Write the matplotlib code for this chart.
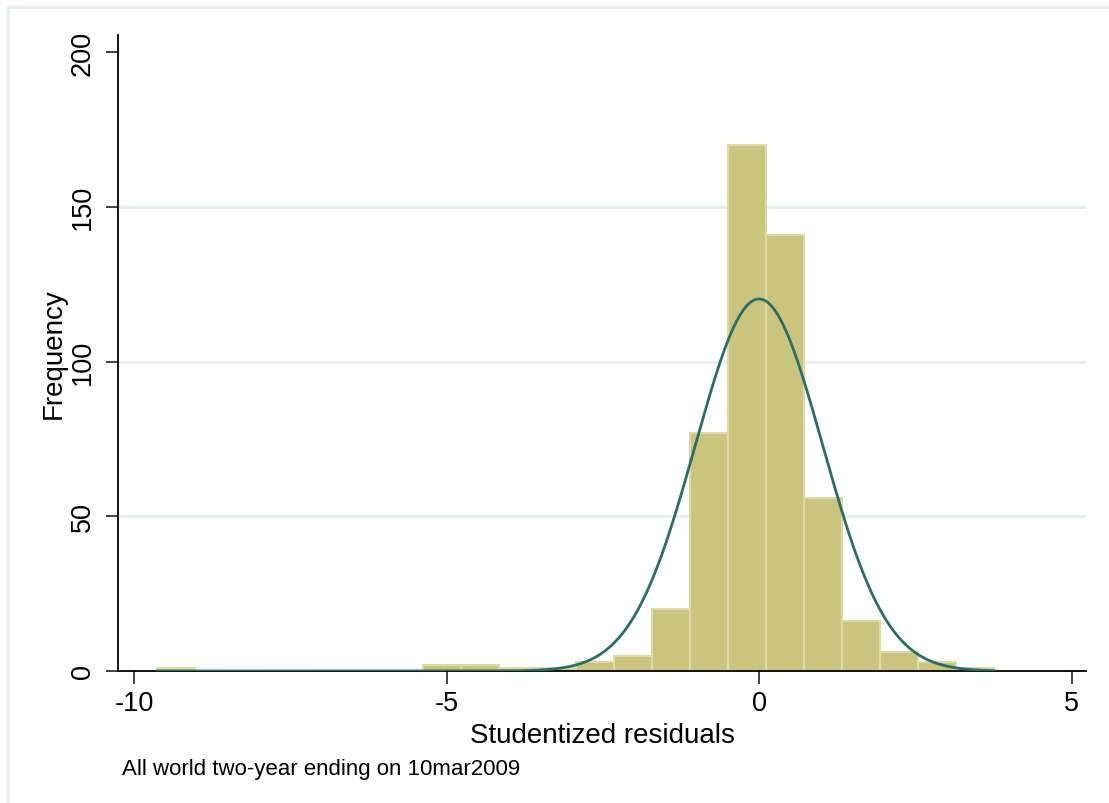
import numpy as np
import matplotlib
matplotlib.use("Agg")
import matplotlib.pyplot as plt
from matplotlib.lines import Line2D

plt.rcParams['font.family'] = ['Liberation Sans', 'DejaVu Sans']

# histogram of studentized residuals (22 bins)
bin_start = -9.63
bin_width = 0.6086
counts = [1, 0, 0, 0, 0, 0, 0, 2, 2, 1, 1, 3, 5, 20, 77, 170, 141, 56, 16, 6, 3, 1]

# fitted normal overlay
resid_mean = 0.0
resid_sd = 1.02

y_ticks = [0, 50, 100, 150, 200]
x_ticks = [-10, -5, 0, 5]
note = "All world two-year ending on 10mar2009"

bar_fill = '#cbc47e'
bar_edge = '#dedaa6'
curve_col = '#2b6e66'
grid_col = '#e6eef0'

fig = plt.figure(figsize=(11.09, 8.04), dpi=100)
ax = fig.add_axes([118 / 1109, 1 - 672 / 804, (1086 - 118) / 1109, (672 - 36) / 804])

edges = bin_start + bin_width * np.arange(len(counts) + 1)
ax.bar(edges[:-1], counts, width=bin_width, align='edge', color=bar_fill,
       edgecolor=bar_edge, linewidth=1.5, zorder=2)

n = sum(counts)
xs = np.linspace(edges[0], edges[-1], 600)
dens = np.exp(-0.5 * ((xs - resid_mean) / resid_sd) ** 2) / (resid_sd * np.sqrt(2 * np.pi))
ax.plot(xs, dens * n * bin_width, color=curve_col, lw=2.0, zorder=3)

ax.set_xlim(-10.256, 5.232)
ax.set_ylim(0, 205.5)
ax.set_xticks(x_ticks)
ax.set_xticklabels([str(t) for t in x_ticks])
ax.set_yticks(y_ticks)
ax.set_yticklabels([str(t) for t in y_ticks], rotation=90, va='center')
for v in y_ticks[1:-1]:
    ax.axhline(v, color=grid_col, lw=2, zorder=1)

ax.tick_params(axis='both', direction='out', length=9, width=1.2, labelsize=19.5,
               color='#222222', pad=5)
ax.tick_params(axis='y', pad=7)
for s in ['top', 'right']:
    ax.spines[s].set_visible(False)
for s in ['left', 'bottom']:
    ax.spines[s].set_linewidth(1.3)
    ax.spines[s].set_color('black')

ax.set_xlabel('Studentized residuals', fontsize=20, labelpad=4)
ax.set_ylabel('Frequency', fontsize=20, labelpad=2)

fig.text(122 / 1109, 1 - 770 / 804, note, fontsize=16, ha='left', va='center')

# light outer frame (top and left edges)
fig.add_artist(Line2D([8 / 1109, 1], [1 - 8 / 804, 1 - 8 / 804], color=grid_col, lw=2,
                      transform=fig.transFigure))
fig.add_artist(Line2D([8 / 1109, 8 / 1109], [0, 1 - 8 / 804], color=grid_col, lw=2,
                      transform=fig.transFigure))

fig.savefig('out.png', dpi=100, facecolor='white')
